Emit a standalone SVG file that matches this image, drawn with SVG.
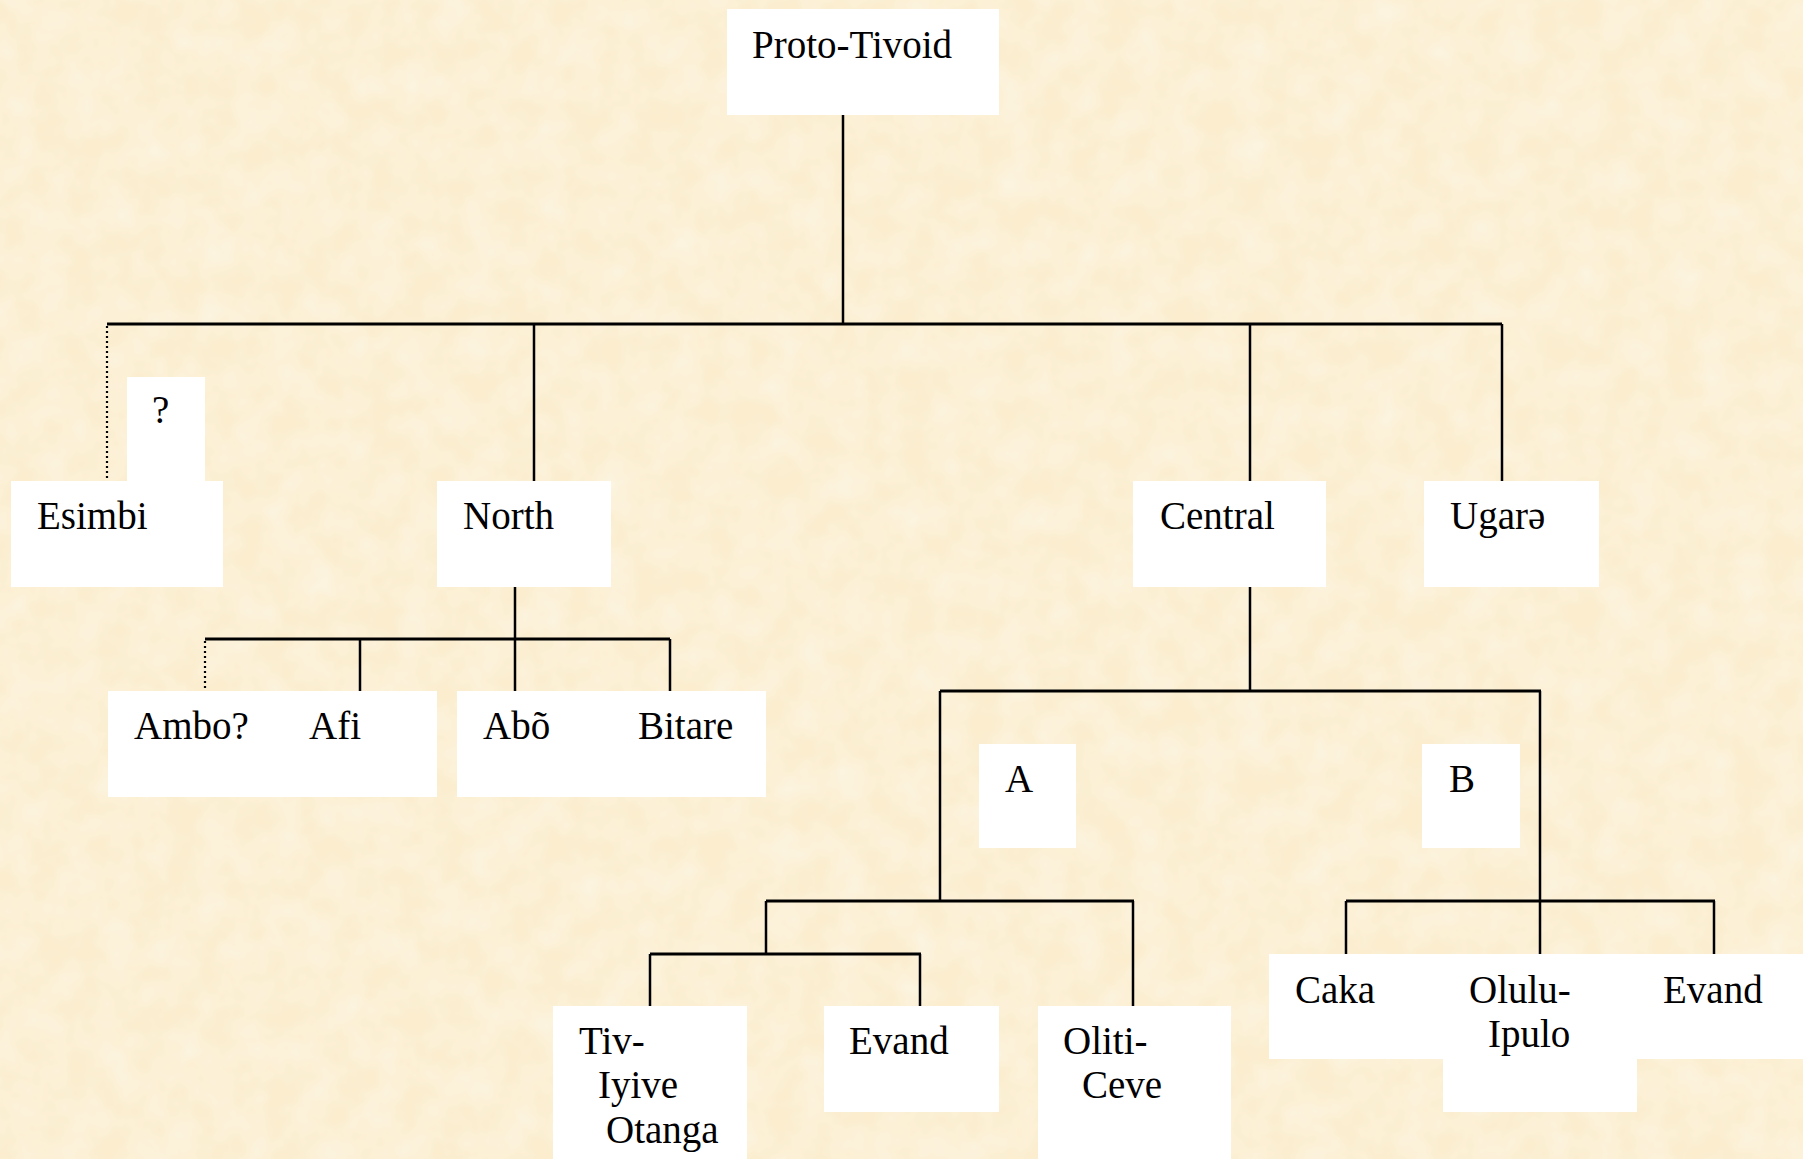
<svg xmlns="http://www.w3.org/2000/svg" width="1803" height="1159" viewBox="0 0 1803 1159">
<defs>
<filter id="tex" x="0" y="0" width="100%" height="100%">
<feTurbulence type="fractalNoise" baseFrequency="0.03" numOctaves="3" seed="7"/>
<feColorMatrix type="matrix" values="0 0 0 0 1  0 0 0 0 1  0 0 0 0 0.97  0 0 0 0.6 -0.15"/>
</filter>
<style>
.box{fill:#ffffff;}
.t{font-family:"Liberation Serif","Times New Roman",serif;font-size:39px;fill:#000;}
.ln{stroke:#000;stroke-width:2.5;fill:none;}
.h{stroke:#000;stroke-width:3;fill:none;}
.dot{stroke:#000;stroke-width:2.2;stroke-dasharray:2 3;fill:none;}
</style>
</defs>
<rect x="0" y="0" width="1803" height="1159" fill="#FBEDCE"/>
<rect x="0" y="0" width="1803" height="1159" filter="url(#tex)"/>

<g id="connectors">
<line class="ln" x1="843" y1="114" x2="843" y2="324"/>
<line class="h" x1="107" y1="324" x2="1502" y2="324"/>
<line class="dot" x1="107" y1="326" x2="107" y2="481"/>
<line class="ln" x1="534" y1="324" x2="534" y2="481"/>
<line class="ln" x1="1250" y1="324" x2="1250" y2="481"/>
<line class="ln" x1="1502" y1="324" x2="1502" y2="481"/>

<line class="ln" x1="515" y1="587" x2="515" y2="691"/>
<line class="h" x1="205" y1="639" x2="670" y2="639"/>
<line class="dot" x1="205" y1="641" x2="205" y2="691"/>
<line class="ln" x1="360" y1="639" x2="360" y2="691"/>
<line class="ln" x1="670" y1="639" x2="670" y2="691"/>

<line class="ln" x1="1250" y1="587" x2="1250" y2="691"/>
<line class="h" x1="940" y1="691" x2="1541" y2="691"/>
<line class="ln" x1="940" y1="691" x2="940" y2="901"/>
<line class="ln" x1="1540" y1="691" x2="1540" y2="954"/>

<line class="h" x1="766" y1="901" x2="1134" y2="901"/>
<line class="ln" x1="766" y1="901" x2="766" y2="954"/>
<line class="ln" x1="1133" y1="901" x2="1133" y2="1006"/>
<line class="h" x1="650" y1="954" x2="921" y2="954"/>
<line class="ln" x1="650" y1="954" x2="650" y2="1006"/>
<line class="ln" x1="920" y1="954" x2="920" y2="1006"/>

<line class="h" x1="1346" y1="901" x2="1715" y2="901"/>
<line class="ln" x1="1346" y1="901" x2="1346" y2="954"/>
<line class="ln" x1="1714" y1="901" x2="1714" y2="954"/>
</g>

<g id="proto-tivoid"><rect class="box" x="727" y="9" width="272" height="106"/><text class="t" x="752" y="58">Proto-Tivoid</text></g>
<g id="question"><rect class="box" x="127" y="377" width="78" height="104"/><text class="t" x="152" y="423">?</text></g>
<g id="esimbi"><rect class="box" x="11" y="481" width="212" height="106"/><text class="t" x="37" y="529">Esimbi</text></g>
<g id="north"><rect class="box" x="437" y="481" width="174" height="106"/><text class="t" x="463" y="529">North</text></g>
<g id="central"><rect class="box" x="1133" y="481" width="193" height="106"/><text class="t" x="1160" y="529">Central</text></g>
<g id="ugare"><rect class="box" x="1424" y="481" width="175" height="106"/><text class="t" x="1450" y="529">Ugarə</text></g>

<g id="ambo-afi"><rect class="box" x="108" y="691" width="329" height="106"/><text class="t" x="134" y="739">Ambo?</text><text class="t" x="309" y="739">Afi</text></g>
<g id="abo-bitare"><rect class="box" x="457" y="691" width="309" height="106"/><text class="t" x="483" y="739">Abõ</text><text class="t" x="638" y="739">Bitare</text></g>

<g id="a"><rect class="box" x="979" y="744" width="97" height="104"/><text class="t" x="1005" y="792">A</text></g>
<g id="b"><rect class="box" x="1422" y="744" width="98" height="104"/><text class="t" x="1449" y="792">B</text></g>

<g id="tiv"><rect class="box" x="553" y="1006" width="194" height="153"/><text class="t" x="579" y="1054">Tiv-</text><text class="t" x="598" y="1098">Iyive</text><text class="t" x="606" y="1143">Otanga</text></g>
<g id="evand-a"><rect class="box" x="824" y="1006" width="175" height="106"/><text class="t" x="849" y="1054">Evand</text></g>
<g id="oliti"><rect class="box" x="1038" y="1006" width="193" height="153"/><text class="t" x="1063" y="1054">Oliti-</text><text class="t" x="1082" y="1098">Ceve</text></g>

<g id="caka-olulu-evand"><rect class="box" x="1269" y="954" width="534" height="105"/><rect class="box" x="1443" y="1058" width="194" height="54"/><text class="t" x="1295" y="1003">Caka</text><text class="t" x="1469" y="1003">Olulu-</text><text class="t" x="1488" y="1047">Ipulo</text><text class="t" x="1663" y="1003">Evand</text></g>
</svg>
